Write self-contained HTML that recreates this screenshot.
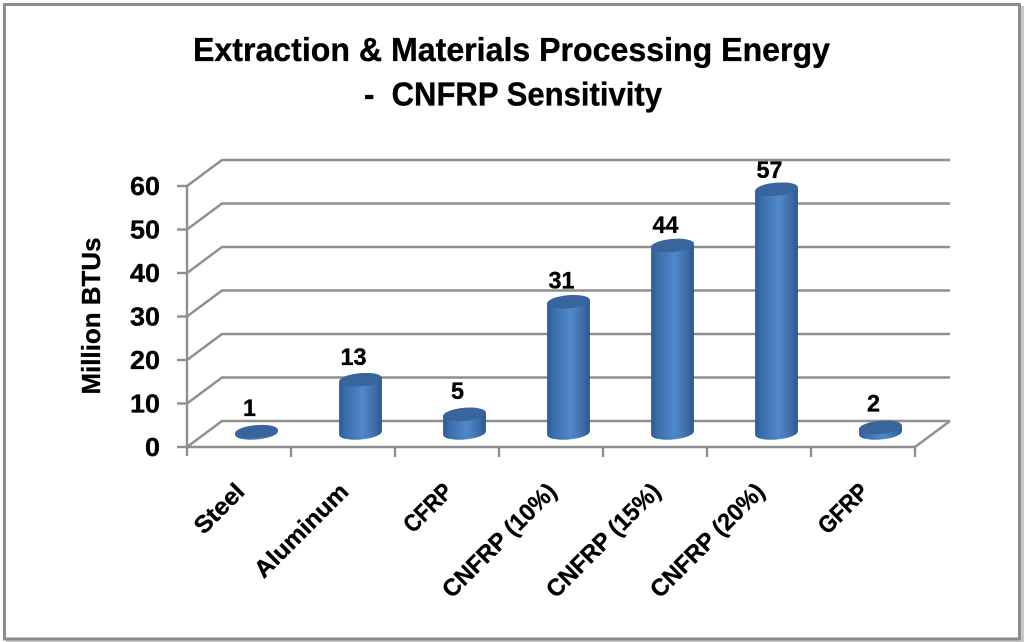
<!DOCTYPE html>
<html lang="en">
<head>
<meta charset="utf-8">
<title>Extraction &amp; Materials Processing Energy</title>
<style>
html,body{margin:0;padding:0;background:#fff;width:1024px;height:642px;overflow:hidden}
svg{display:block}
text{font-family:"Liberation Sans",sans-serif;font-weight:bold;fill:#000;stroke:#000;stroke-width:.35px}
</style>
</head>
<body>
<svg id="chart" xmlns="http://www.w3.org/2000/svg" width="1024" height="642" viewBox="0 0 1024 642">
  <defs>
    <linearGradient id="cyl" x1="0" y1="0" x2="1" y2="0">
      <stop offset="0" stop-color="#2f5c94"/>
      <stop offset="0.15" stop-color="#3b6ea9"/>
      <stop offset="0.55" stop-color="#5088cc"/>
      <stop offset="0.85" stop-color="#3c6ca6"/>
      <stop offset="1" stop-color="#2c5688"/>
    </linearGradient>
  </defs>
  <rect x="6" y="6" width="1018" height="636" fill="#c9c9c9"/>
  <rect x="4.5" y="4.5" width="1015" height="634.5" fill="#fff" stroke="#8c8c8c" stroke-width="3"/>
  <text x="193" y="61" font-size="33" textLength="637" lengthAdjust="spacingAndGlyphs">Extraction &amp; Materials Processing Energy</text>
  <text x="364" y="105.5" font-size="33" textLength="298" lengthAdjust="spacingAndGlyphs" xml:space="preserve">-  CNFRP Sensitivity</text>
  <text transform="translate(100,316) rotate(-90)" text-anchor="middle" font-size="26" textLength="157" lengthAdjust="spacingAndGlyphs">Million BTUs</text>
  <g id="grid"></g>
  <g id="axes"></g>
  <g id="bars"></g>
</svg>
<script>
const categories = ["Steel", "Aluminum", "CFRP", "CNFRP (10%)", "CNFRP (15%)", "CNFRP (20%)", "GFRP"];
const energyValues = [1, 13, 5, 31, 44, 57, 2];
const valueLabels = ["1", "13", "5", "31", "44", "57", "2"];
const yTicks = [0, 10, 20, 30, 40, 50, 60];

const NS = "http://www.w3.org/2000/svg";
const plotLeft = 187, plotRight = 915, plotBottom = 447, plotTop = 186;
const depthX = 35, depthY = 26;
const yMax = 60;
const barRx = 21.5, barRy = 6.5, barTilt = -5;
const barFloor = 433, barOrigin = 436, barScale = 4.33;
const catWidth = (plotRight - plotLeft) / categories.length;

function yScale(v) { return plotBottom - (v / yMax) * (plotBottom - plotTop); }
function xEdge(i) { return plotLeft + i * catWidth; }
function xCenter(i) { return xEdge(i) + catWidth / 2 + 17.5; }
function barTopY(v) { return barOrigin - v * barScale; }
function valueLabelY(v) { return barTopY(v) - 16 + v * 0.08; }

function add(parent, tag, attrs, txt) {
  const el = document.createElementNS(NS, tag);
  for (const k in attrs) el.setAttribute(k, attrs[k]);
  if (txt !== undefined) el.textContent = txt;
  parent.appendChild(el);
  return el;
}

const grid = document.getElementById("grid");
const axes = document.getElementById("axes");
const bars = document.getElementById("bars");
const lineStyle = { stroke: "#8f8f8f", "stroke-width": 2.4, fill: "none" };

yTicks.forEach(function (t) {
  const y = yScale(t);
  const line = add(grid, "polyline", Object.assign({
    points: plotLeft + "," + y + " " + (plotLeft + depthX) + "," + (y - depthY) + " " + (plotRight + depthX) + "," + (y - depthY)
  }, lineStyle));
  
  

  const tick = add(axes, "line", Object.assign({ x1: plotLeft - 10, x2: plotLeft, y1: y, y2: y }, lineStyle));
  
  

  const label = add(axes, "text", { x: 160, y: y + 9, "text-anchor": "end", "font-size": 26 }, String(t));
  
  
  label.setAttribute('textLength', t === 0 ? 15 : 30);
  label.setAttribute('lengthAdjust', 'spacingAndGlyphs');
});

const yAxis = add(axes, "line", Object.assign({ x1: plotLeft, x2: plotLeft, y1: yScale(yMax), y2: plotBottom + 9 }, lineStyle));



const xAxis = add(axes, "line", Object.assign({ x1: plotLeft, x2: plotRight, y1: plotBottom, y2: plotBottom }, lineStyle));



const floorEdge = add(axes, "line", Object.assign({ x1: plotRight, x2: plotRight + depthX, y1: plotBottom, y2: plotBottom - depthY }, lineStyle));



for (let i = 1; i <= categories.length; i++) {
  const tick = add(axes, "line", Object.assign({ x1: xEdge(i), x2: xEdge(i), y1: plotBottom, y2: plotBottom + 10 }, lineStyle));
  
  
}

const labelWidths = [60, 122, 58, 150, 150, 150, 60];
categories.forEach(function (name, i) {
  const ex = xEdge(i) + catWidth / 2 + 7;
  const ey = 493;
  const label = add(axes, "text", {
    transform: "translate(" + ex + "," + ey + ") rotate(-45)",
    "text-anchor": "end",
    "font-size": 24,
    textLength: labelWidths[i],
    lengthAdjust: "spacingAndGlyphs"
  }, name);
  
  
});

energyValues.forEach(function (v, i) {
  const cx = xCenter(i);
  const top = barTopY(v);
  const dx = barRx * Math.cos(barTilt * Math.PI / 180);
  const dy = barRx * Math.sin(barTilt * Math.PI / 180);
  const g = add(bars, "g", {});
  
  

  const body = add(g, "path", {
    d: "M" + (cx - dx) + "," + (top - dy) +
       " L" + (cx - dx) + "," + (barFloor - dy) +
       " A" + barRx + "," + barRy + " " + barTilt + " 0 0 " + (cx + dx) + "," + (barFloor + dy) +
       " L" + (cx + dx) + "," + (top + dy) +
       " A" + barRx + "," + barRy + " " + barTilt + " 0 0 " + (cx - dx) + "," + (top - dy) + " Z",
    fill: "url(#cyl)"
  });
  
  

  const cap = add(g, "ellipse", {
    cx: cx, cy: top, rx: barRx, ry: barRy,
    transform: "rotate(" + barTilt + " " + cx + " " + top + ")",
    fill: "#38659b"
  });
  
  

  const label = add(bars, "text", {
    x: cx - 7, y: valueLabelY(v), "text-anchor": "middle", "font-size": 24
  }, valueLabels[i]);
  
  
  label.setAttribute('textLength', valueLabels[i].length * 13);
  label.setAttribute('lengthAdjust', 'spacingAndGlyphs');
});
</script>
</body>
</html>
